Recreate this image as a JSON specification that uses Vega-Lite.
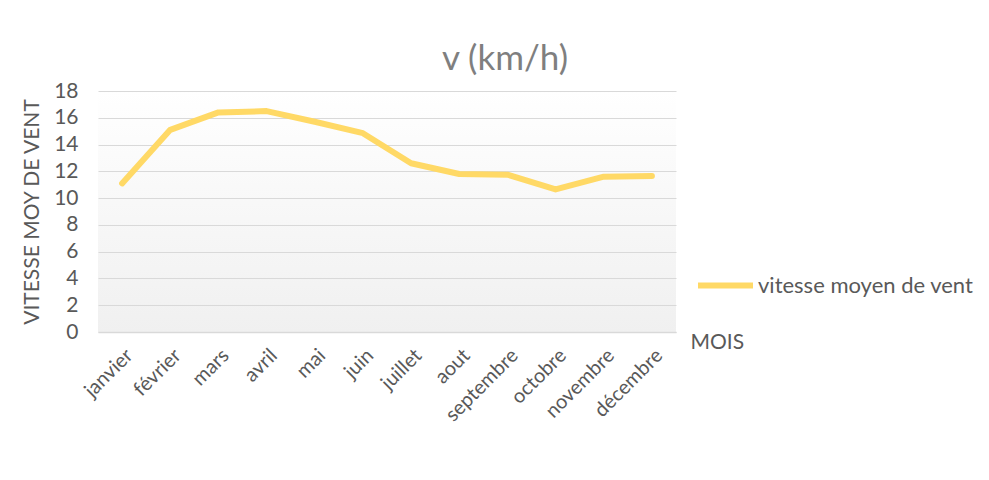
{
  "$schema": "https://vega.github.io/schema/vega-lite/v6.json",
  "width": 578,
  "height": 241,
  "autosize": {"type": "none"},
  "padding": {"left": 98, "top": 91, "right": 313, "bottom": 148},
  "background": "white",
  "config": {
    "font": "Lato",
    "view": {"stroke": null, "fill": {"gradient": "linear", "x1": 0, "y1": 0, "x2": 0, "y2": 1, "stops": [{"offset": 0, "color": "#ffffff"}, {"offset": 1, "color": "#f0f0f0"}]}}
  },
  "title": {
    "text": "v (km/h)",
    "fontSize": 35,
    "font": "Lato",
    "fontWeight": "normal",
    "color": "#7f7f7f",
    "anchor": "middle",
    "dx": 118,
    "offset": 3
  },
  "data": {
    "values": [
      {"mois": "janvier", "v": 11.1, "serie": "vitesse moyen de vent"},
      {"mois": "février", "v": 15.1, "serie": "vitesse moyen de vent"},
      {"mois": "mars", "v": 16.4, "serie": "vitesse moyen de vent"},
      {"mois": "avril", "v": 16.5, "serie": "vitesse moyen de vent"},
      {"mois": "mai", "v": 15.7, "serie": "vitesse moyen de vent"},
      {"mois": "juin", "v": 14.85, "serie": "vitesse moyen de vent"},
      {"mois": "juillet", "v": 12.6, "serie": "vitesse moyen de vent"},
      {"mois": "aout", "v": 11.8, "serie": "vitesse moyen de vent"},
      {"mois": "septembre", "v": 11.75, "serie": "vitesse moyen de vent"},
      {"mois": "octobre", "v": 10.65, "serie": "vitesse moyen de vent"},
      {"mois": "novembre", "v": 11.6, "serie": "vitesse moyen de vent"},
      {"mois": "décembre", "v": 11.65, "serie": "vitesse moyen de vent"}
    ]
  },
  "mark": {"type": "line", "strokeWidth": 6, "strokeCap": "round", "strokeJoin": "round"},
  "encoding": {
    "x": {
      "field": "mois",
      "type": "ordinal",
      "sort": null,
      "scale": {"paddingInner": 0, "paddingOuter": 0.5},
      "axis": {
        "title": "MOIS",
        "titleFont": "Lato",
        "titleFontSize": 21,
        "titleFontWeight": "normal",
        "titleColor": "#595959",
        "titleAlign": "left",
        "titleBaseline": "middle",
        "titleX": 592,
        "titleY": 10,
        "labelAngle": -45,
        "labelFontSize": 20,
        "labelColor": "#595959",
        "labelPadding": 13,
        "labelDx": -4,
        "ticks": false,
        "domainColor": "#d9d9d9",
        "domainWidth": 1.5,
        "grid": false
      }
    },
    "y": {
      "field": "v",
      "type": "quantitative",
      "scale": {"domain": [0, 18], "nice": false},
      "axis": {
        "title": "VITESSE MOY DE VENT",
        "titleFont": "Lato",
        "titleFontSize": 21,
        "titleFontWeight": "normal",
        "titleColor": "#595959",
        "titleX": -56,
        "values": [0, 2, 4, 6, 8, 10, 12, 14, 16, 18],
        "labelFontSize": 21,
        "labelColor": "#595959",
        "labelPadding": 20,
        "ticks": false,
        "domain": false,
        "gridColor": "#d9d9d9",
        "gridWidth": 1.2
      }
    },
    "color": {
      "field": "serie",
      "type": "nominal",
      "scale": {"range": ["#FFD966"]},
      "legend": {
        "title": null,
        "orient": "none",
        "legendX": 597,
        "legendY": 164,
        "symbolType": "stroke",
        "symbolStrokeWidth": 6,
        "symbolSize": 3025,
        "labelFontSize": 22,
        "labelColor": "#595959",
        "labelOffset": 2,
        "labelLimit": 0,
        "labelFont": "Lato"
      }
    }
  }
}
